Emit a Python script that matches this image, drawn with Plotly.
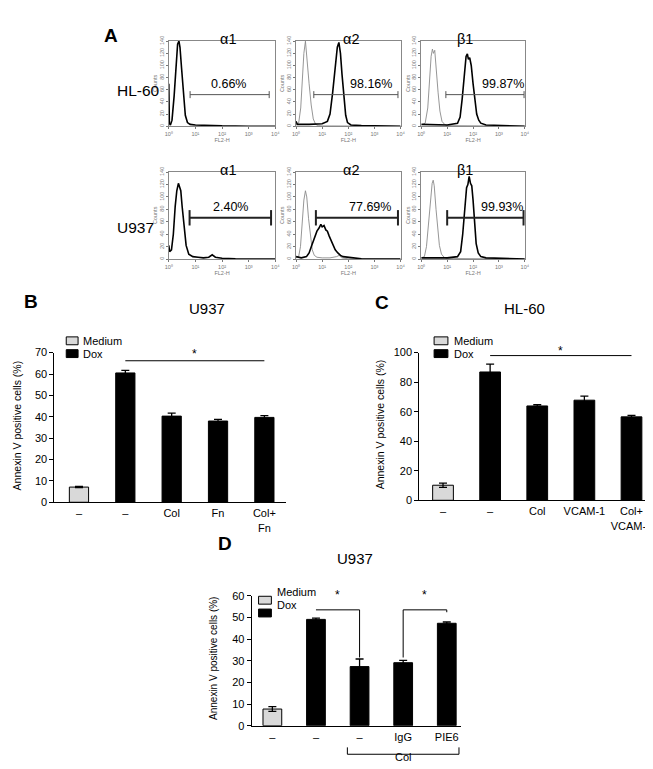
import plotly.graph_objects as go

W, H = 653, 769
FONT = "Liberation Sans, Arial, sans-serif"

# ---------------- Panel A: flow cytometry histograms ----------------
row_labels = ["HL-60", "U937"]
col_titles = ["α1", "α2", "β1"]
hist_xtick_vals = [1, 10, 100, 1000, 10000]
hist_xtick_text = ["10⁰", "10¹", "10²", "10³", "10⁴"]
hist_ytick_vals = [0, 20, 40, 60, 80, 100, 120, 140]

# log10(FL2-H) and counts (stained = black, isotype = grey)
hl60_a1_stain_log = [0.0, 0.02, 0.06, 0.12, 0.2, 0.27, 0.33, 0.38, 0.42, 0.48, 0.55, 0.62, 0.7, 0.8, 1.0, 1.5, 2.0, 3.0, 4.0]
hl60_a1_stain_cnt = [70, 5, 2, 10, 50, 105, 135, 140, 130, 95, 50, 18, 6, 3, 2, 1, 0.5, 0, 0]
hl60_a1_iso_log = []
hl60_a1_iso_cnt = []

hl60_a2_stain_log = [0.0, 0.05, 0.5, 1.0, 1.2, 1.3, 1.4, 1.5, 1.58, 1.64, 1.7, 1.76, 1.83, 1.9, 1.97, 2.1, 2.5, 3.0, 4.0]
hl60_a2_stain_cnt = [8, 3, 3, 4, 8, 20, 55, 100, 130, 138, 120, 85, 45, 18, 6, 2, 1, 0.5, 0]
hl60_a2_iso_log = [0.0, 0.1, 0.18, 0.25, 0.3, 0.36, 0.42, 0.5, 0.58, 0.66, 0.75, 0.85, 1.0, 4.0]
hl60_a2_iso_cnt = [2, 5, 30, 80, 120, 140, 115, 70, 35, 12, 3, 1, 0.5, 0]

hl60_b1_stain_log = [0.0, 1.0, 1.4, 1.5, 1.58, 1.66, 1.73, 1.78, 1.82, 1.87, 1.93, 2.0, 2.07, 2.14, 2.22, 2.3, 2.5, 3.0, 4.0]
hl60_b1_stain_cnt = [3, 2, 5, 15, 45, 90, 115, 119, 110, 113, 100, 70, 40, 20, 10, 5, 2, 1, 0]
hl60_b1_iso_log = [0.0, 0.15, 0.25, 0.32, 0.38, 0.43, 0.47, 0.52, 0.57, 0.65, 0.72, 0.8, 0.9, 1.0, 4.0]
hl60_b1_iso_cnt = [2, 5, 30, 80, 115, 127, 120, 125, 95, 55, 25, 8, 3, 1, 0]

u937_a1_stain_log = [0.0, 0.03, 0.1, 0.17, 0.24, 0.3, 0.36, 0.4, 0.45, 0.5, 0.57, 0.65, 0.75, 0.9, 1.1, 1.3, 1.5, 1.63, 1.75, 2.0, 2.5, 4.0]
u937_a1_stain_cnt = [22, 12, 15, 40, 85, 110, 122, 115, 110, 85, 50, 22, 8, 4, 3, 2, 3, 7, 3, 1.5, 0.5, 0]
u937_a1_iso_log = []
u937_a1_iso_cnt = []

u937_a2_stain_log = [0.0, 0.2, 0.4, 0.5, 0.6, 0.7, 0.8, 0.88, 0.95, 1.0, 1.07, 1.14, 1.2, 1.27, 1.35, 1.42, 1.5, 1.6, 1.7, 1.8, 2.0, 2.2, 2.5, 4.0]
u937_a2_stain_cnt = [4, 2, 4, 10, 22, 35, 45, 50, 56, 52, 54, 47, 45, 37, 30, 22, 15, 10, 6, 4, 3, 1.5, 0.5, 0]
u937_a2_iso_log = [0.0, 0.1, 0.17, 0.24, 0.3, 0.36, 0.41, 0.48, 0.55, 0.62, 0.7, 0.8, 1.0, 1.3, 1.55, 1.65, 1.75, 2.0, 4.0]
u937_a2_iso_cnt = [2, 4, 20, 60, 95, 110, 100, 65, 35, 15, 6, 3, 2, 2, 4, 6, 2, 0.5, 0]

u937_b1_stain_log = [0.0, 1.0, 1.4, 1.52, 1.6, 1.68, 1.75, 1.8, 1.85, 1.9, 1.95, 2.0, 2.06, 2.12, 2.2, 2.3, 2.5, 3.0, 4.0]
u937_b1_stain_cnt = [2, 2, 4, 12, 40, 85, 115, 120, 133, 122, 118, 95, 55, 25, 10, 4, 2, 1, 0]
u937_b1_iso_log = [0.0, 0.12, 0.2, 0.28, 0.35, 0.42, 0.46, 0.5, 0.57, 0.64, 0.7, 0.78, 0.88, 1.0, 4.0]
u937_b1_iso_cnt = [2, 4, 20, 60, 100, 122, 127, 118, 80, 45, 22, 8, 3, 1, 0]

gate_lo_log = [[0.80, 0.68, 0.95], [0.78, 0.76, 1.00]]
gate_hi_log = [[3.77, 3.90, 3.97], [3.84, 3.90, 3.95]]
gate_pct = [["0.66%", "98.16%", "99.87%"], ["2.40%", "77.69%", "99.93%"]]

hist_data = [
    [(hl60_a1_stain_log, hl60_a1_stain_cnt, hl60_a1_iso_log, hl60_a1_iso_cnt),
     (hl60_a2_stain_log, hl60_a2_stain_cnt, hl60_a2_iso_log, hl60_a2_iso_cnt),
     (hl60_b1_stain_log, hl60_b1_stain_cnt, hl60_b1_iso_log, hl60_b1_iso_cnt)],
    [(u937_a1_stain_log, u937_a1_stain_cnt, u937_a1_iso_log, u937_a1_iso_cnt),
     (u937_a2_stain_log, u937_a2_stain_cnt, u937_a2_iso_log, u937_a2_iso_cnt),
     (u937_b1_stain_log, u937_b1_stain_cnt, u937_b1_iso_log, u937_b1_iso_cnt)],
]

# ---------------- Panels B, C, D: bar charts ----------------
b_categories = ["–", "–", "Col", "Fn", "Col+<br>Fn"]
b_medium = [7.1]
b_medium_err = [0.3]
b_dox = [60.5, 40.3, 38.0, 39.7]
b_dox_err = [1.2, 1.4, 0.8, 0.8]

c_categories = ["–", "–", "Col", "VCAM-1", "Col+<br>VCAM-1"]
c_medium = [10.2]
c_medium_err = [1.4]
c_dox = [86.9, 63.9, 67.8, 56.5]
c_dox_err = [5.3, 0.8, 2.7, 1.0]

d_categories = ["–", "–", "–", "IgG", "PIE6"]
d_medium = [7.7]
d_medium_err = [1.1]
d_dox = [49.1, 27.3, 29.1, 47.3]
d_dox_err = [0.6, 3.5, 1.1, 0.6]
d_group_label = "Col"

y_title = "Annexin V positive cells (%)"

# significance markers (bar index from, to, line level, star level)
b_sig = (1, 4, 66.2, 69.5)
c_sig = (1, 4, 98.0, 101.0)
d_sig_pairs = [(1, 2), (3, 4)]
d_sig_level = 53.5
d_sig_left_end = [53.5, 31.5]
d_sig_right_end = [31.5, 52.4]
d_star_level = 56.3
d_group = (2, 4)

# ---------------- layout helpers ----------------
def xdom(a, b):
    return [a / W, b / W]

def ydom(top, bottom):
    return [1 - bottom / H, 1 - top / H]

def px_x(v):
    return v / W

def px_y(v):
    return 1 - v / H

fig = go.Figure()
layout = dict(
    width=W, height=H,
    margin=dict(l=0, r=0, t=0, b=0),
    paper_bgcolor="white", plot_bgcolor="white",
    showlegend=False, barmode="overlay",
    font=dict(family=FONT, color="black"),
)
annotations = []
shapes = []

hist_rows_px = [(27, 114), (160, 249)]
hist_cols_px = [(159, 267), (288, 394), (415, 520)]
gate_level = [52, 66.5]
gate_style = [dict(color="#555", w=1.0, cap=5), dict(color="#222", w=2.0, cap=11)]
label_log = [[2.26, 2.87, 3.16], [2.33, 2.83, 3.12]]
label_level = [70, 84]
tiny = dict(size=5.5, color="#777")

ax = 0
for r in range(2):
    for c in range(3):
        ax += 1
        xa = "x" if ax == 1 else f"x{ax}"
        ya = "y" if ax == 1 else f"y{ax}"
        sl, sc, il, ic = hist_data[r][c]
        if il:
            fig.add_trace(go.Scatter(x=[10 ** v for v in il], y=ic, mode="lines",
                                     line=dict(color="#8a8a8a", width=0.9), xaxis=xa, yaxis=ya))
        fig.add_trace(go.Scatter(x=[10 ** v for v in sl], y=sc, mode="lines",
                                 line=dict(color="black", width=1.6), xaxis=xa, yaxis=ya))
        gs = gate_style[r]
        fig.add_trace(go.Scatter(
            x=[10 ** gate_lo_log[r][c], 10 ** gate_hi_log[r][c]], y=[gate_level[r]] * 2,
            mode="lines+markers", line=dict(color=gs["color"], width=gs["w"]),
            marker=dict(symbol="line-ns", size=gs["cap"], line=dict(color=gs["color"], width=gs["w"])),
            xaxis=xa, yaxis=ya, cliponaxis=False))
        annotations.append(dict(x=label_log[r][c], y=label_level[r], xref=xa, yref=ya,
                                text=gate_pct[r][c], showarrow=False,
                                font=dict(size=12.5, family=FONT)))
        x0, x1 = hist_cols_px[c]
        y0, y1 = hist_rows_px[r]
        key_x = "xaxis" if ax == 1 else f"xaxis{ax}"
        key_y = "yaxis" if ax == 1 else f"yaxis{ax}"
        layout[key_x] = dict(domain=xdom(x0, x1), anchor=ya, type="log", range=[0, 4],
                             tickvals=hist_xtick_vals, ticktext=hist_xtick_text,
                             tickfont=tiny, ticks="outside", ticklen=2,
                             tickcolor="#777", showline=True, mirror=True, linecolor="#888",
                             linewidth=0.8, showgrid=False, zeroline=False,
                             title=dict(text="FL2-H", font=tiny, standoff=0))
        layout[key_y] = dict(domain=ydom(y0, y1), anchor=xa, range=[0, 141],
                             tickvals=hist_ytick_vals, tickangle=-90,
                             tickfont=tiny, ticks="outside", ticklen=2,
                             tickcolor="#777", showline=True, mirror=True, linecolor="#888",
                             linewidth=0.8, showgrid=False, zeroline=False,
                             title=dict(text="Counts", font=tiny, standoff=0))

# column titles and row labels
for c in range(3):
    for ty in (15, 148):
        annotations.append(dict(x=px_x([219, 344, 469][c]), y=px_y(ty), xref="paper", yref="paper",
                                text=col_titles[c], showarrow=False, font=dict(size=14.5, family=FONT)))
for r, ty in enumerate([67, 206]):
    annotations.append(dict(x=px_x(104), y=px_y(ty), xref="paper", yref="paper",
                            text=row_labels[r], showarrow=False, font=dict(size=15.5, family=FONT)))

# panel letters and titles
for txt, x, y in [("A", 91, 9), ("B", 10, 292), ("C", 375, 293), ("D", 207, 551)]:
    annotations.append(dict(x=px_x(x), y=px_y(y), xref="paper", yref="paper", text=f"<b>{txt}</b>",
                            showarrow=False, font=dict(size=19, family=FONT)))
for txt, x, y in [("U937", 177, 299), ("HL-60", 542, 299), ("U937", 348, 564)]:
    annotations.append(dict(x=px_x(x), y=px_y(y), xref="paper", yref="paper", text=txt,
                            showarrow=False, font=dict(size=15, family=FONT)))

# bar panels
bar_panels = [
    dict(cat=b_categories, med=b_medium, mede=b_medium_err, dox=b_dox, doxe=b_dox_err,
         xpx=(43, 278), ypx=(344, 496), yr=70, dt=10, xr=[-0.53, 4.47], bw=0.415,
         ytitle_x=6, tsize=10.5, leg=(55, 67, 332, 345, 70)),
    dict(cat=c_categories, med=c_medium, mede=c_medium_err, dox=c_dox, doxe=c_dox_err,
         xpx=(413, 653), ypx=(344, 494), yr=100, dt=20, xr=[-0.503, 4.52], bw=0.44,
         ytitle_x=374, tsize=10.5, leg=(428, 442, 332, 345, 446)),
    dict(cat=d_categories, med=d_medium, mede=d_medium_err, dox=d_dox, doxe=d_dox_err,
         xpx=(243, 455), ypx=(591, 723), yr=60, dt=10, xr=[-0.475, 4.32], bw=0.43,
         ytitle_x=205, tsize=10, leg=(250, 263, 595.5, 608.5, 267)),
]

def val_to_paper(p, v):
    top, bottom = p["ypx"]
    return px_y(bottom - (bottom - top) * v / p["yr"])

for i, p in enumerate(bar_panels):
    ax = 7 + i
    xa, ya = f"x{ax}", f"y{ax}"
    err_style = dict(type="data", color="black", thickness=1.3, width=4)
    fig.add_trace(go.Bar(x=[0], y=p["med"], width=p["bw"], xaxis=xa, yaxis=ya,
                         marker=dict(color="#d9d9d9", line=dict(color="black", width=1)),
                         error_y=dict(array=p["mede"], **err_style)))
    fig.add_trace(go.Bar(x=[1, 2, 3, 4], y=p["dox"], width=p["bw"], xaxis=xa, yaxis=ya,
                         marker=dict(color="black", line=dict(color="black", width=1)),
                         error_y=dict(array=p["doxe"], **err_style)))
    layout[f"xaxis{ax}"] = dict(domain=xdom(*p["xpx"]), anchor=ya, range=p["xr"],
                                tickvals=[0, 1, 2, 3, 4], ticktext=p["cat"], ticks="",
                                tickfont=dict(size=11, family=FONT), showline=True,
                                linecolor="black", linewidth=1, showgrid=False, zeroline=False,
                                ticklabelstandoff=1, ticklabeloverflow="allow")
    layout[f"yaxis{ax}"] = dict(domain=ydom(*p["ypx"]), anchor=xa, range=[0, p["yr"]],
                                dtick=p["dt"], ticks="outside", ticklen=4, tickcolor="black",
                                tickfont=dict(size=11, family=FONT), showline=True,
                                linecolor="black", linewidth=1, showgrid=False, zeroline=False)
    annotations.append(dict(x=px_x(p["ytitle_x"]), y=px_y((p["ypx"][0] + p["ypx"][1]) / 2 - 2),
                            xref="paper", yref="paper", text=y_title, textangle=-90,
                            xanchor="center", yanchor="middle",
                            showarrow=False, font=dict(size=p["tsize"], family=FONT)))
    bx0, bx1, ly1, ly2, tx = p["leg"]
    for ly, col, lab in [(ly1, "#d9d9d9", "Medium"), (ly2, "black", "Dox")]:
        shapes.append(dict(type="rect", xref="paper", yref="paper",
                           x0=px_x(bx0), x1=px_x(bx1), y0=px_y(ly + 4), y1=px_y(ly - 4),
                           fillcolor=col, line=dict(color="black", width=1)))
        annotations.append(dict(x=px_x(tx), y=px_y(ly), xref="paper", yref="paper", text=lab,
                                xanchor="left", showarrow=False, font=dict(size=11, family=FONT)))

for i, (s0, s1, lvl, st) in [(0, b_sig), (1, c_sig)]:
    ax = 7 + i
    shapes.append(dict(type="line", xref=f"x{ax}", yref=f"y{ax}", x0=s0, x1=s1, y0=lvl, y1=lvl,
                       line=dict(color="black", width=1)))
    annotations.append(dict(x=(s0 + s1) / 2, y=val_to_paper(bar_panels[i], st), xref=f"x{ax}",
                            yref="paper", text="*", showarrow=False, font=dict(size=12, family=FONT)))

for k, (s0, s1) in enumerate(d_sig_pairs):
    shapes.append(dict(type="path", xref="x9", yref="y9",
                       path=f"M {s0},{d_sig_left_end[k]} L {s0},{d_sig_level} L {s1},{d_sig_level} L {s1},{d_sig_right_end[k]}",
                       line=dict(color="black", width=1)))
    annotations.append(dict(x=(s0 + s1) / 2, y=val_to_paper(bar_panels[2], d_star_level), xref="x9",
                            yref="paper", text="*", showarrow=False, font=dict(size=12, family=FONT)))

# Col bracket under D
pad = 0.28
yb, yt = px_y(752), px_y(745)
shapes.append(dict(type="path", xref="x9", yref="paper",
                   path=f"M {d_group[0] - pad},{yt} L {d_group[0] - pad},{yb} L {d_group[1] + pad},{yb} L {d_group[1] + pad},{yt}",
                   line=dict(color="black", width=1)))
annotations.append(dict(x=(d_group[0] + d_group[1]) / 2, y=px_y(763), xref="x9", yref="paper",
                        text=d_group_label, showarrow=False, font=dict(size=11, family=FONT)))

layout["annotations"] = annotations
layout["shapes"] = shapes
fig.update_layout(**layout)
fig.write_html("out.html")
